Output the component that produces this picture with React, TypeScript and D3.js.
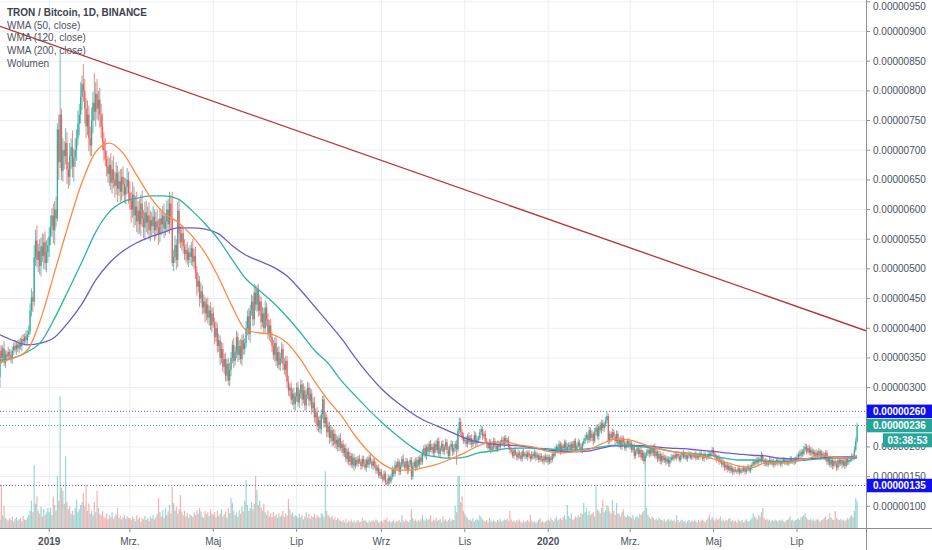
import React, { useEffect, useRef } from 'react';
import * as d3 from 'd3';

// TRX/BTC daily candles, prices in satoshi (1e-8 BTC), first candle 2018-11-26
const startDate = '2018-11-26';
const firstOpen = 318;

const closes = [
  362, 350, 366, 342, 356, // Nov 18
  352, 360, 355, 348, 362, 370, 364, 372, 366, 375, 370, 382, 378, 386, 380, 390, 395, 430, 452, 445, 520, 548, 515, 530, 505, 538, 522, 545, 510, 528, 540, // Dec
  555, 572, 590, 565, 600, 585, 735, 680, 760, 665, 700, 690, 712, 668, 655, 690, 705, 672, 688, 700, 720, 745, 760, 790, 812, 800, 770, 740, 760, 720, 708, // Jan 19
  750, 780, 765, 795, 770, 785, 760, 740, 715, 700, 685, 672, 660, 675, 645, 668, 650, 640, 662, 635, 648, 630, 655, 642, 625, 638, 650, 628, // Feb
  615, 600, 625, 590, 605, 580, 598, 575, 610, 585, 570, 595, 578, 590, 565, 582, 572, 588, 565, 580, 570, 560, 585, 575, 590, 568, 580, 600, 575, 610, 585, // Mar
  510, 520, 540, 515, 598, 560, 545, 560, 538, 525, 532, 515, 528, 520, 535, 512, 522, 495, 470, 480, 450, 462, 435, 445, 425, 440, 418, 430, 405, 425, // Apr
  410, 385, 400, 370, 380, 350, 365, 335, 348, 320, 340, 312, 330, 350, 372, 345, 360, 385, 355, 370, 348, 380, 365, 375, 400, 420, 390, 430, 445, 415, 460, // May
  440, 465, 430, 445, 410, 425, 400, 435, 415, 390, 405, 385, 370, 355, 375, 345, 360, 338, 350, 365, 340, 330, 345, 310, 295, 300, 280, 290, 272, 285, // Jun
  300, 275, 290, 305, 280, 295, 270, 288, 300, 278, 290, 265, 275, 250, 258, 235, 245, 230, 255, 280, 240, 250, 225, 235, 215, 228, 210, 222, 205, 212, 200, // Jul
  215, 198, 205, 190, 198, 180, 192, 175, 185, 170, 182, 168, 178, 172, 180, 175, 168, 180, 172, 165, 178, 170, 182, 175, 168, 176, 170, 160, 165, 152, 158, // Aug
  150, 145, 155, 140, 138, 148, 142, 150, 162, 155, 170, 165, 175, 158, 168, 180, 172, 165, 176, 160, 170, 178, 150, 168, 175, 165, 178, 170, 182, 175, // Sep
  190, 198, 185, 200, 192, 205, 195, 200, 190, 205, 195, 210, 188, 198, 205, 192, 200, 208, 195, 185, 200, 205, 192, 198, 205, 196, 228, 242, 225, 218, 210, // Oct
  212, 205, 218, 208, 215, 204, 210, 220, 206, 212, 215, 225, 230, 218, 222, 210, 205, 198, 208, 195, 200, 210, 202, 196, 205, 200, 208, 212, 205, 215, // Nov
  208, 212, 200, 195, 192, 185, 195, 188, 182, 190, 186, 180, 192, 185, 188, 183, 190, 185, 180, 188, 184, 190, 182, 186, 178, 185, 180, 176, 184, 178, 183, // Dec
  175, 182, 178, 188, 185, 195, 200, 196, 205, 192, 202, 198, 208, 195, 200, 204, 196, 205, 198, 210, 195, 202, 208, 200, 195, 206, 210, 215, 220, 212, 228, // Jan 20
  215, 222, 210, 225, 232, 218, 235, 228, 240, 232, 238, 245, 252, 210, 222, 215, 225, 218, 210, 222, 205, 212, 200, 215, 208, 198, 205, 210, 202, // Feb
  206, 195, 200, 185, 192, 198, 188, 195, 182, 190, 176, 186, 190, 195, 188, 198, 190, 200, 185, 192, 180, 188, 176, 185, 178, 182, 175, 180, 172, 178, 183, // Mar
  180, 186, 182, 188, 184, 178, 186, 190, 183, 187, 180, 185, 189, 182, 186, 184, 188, 181, 186, 183, 189, 185, 180, 187, 184, 182, 188, 185, 190, 195, // Apr
  188, 185, 180, 182, 175, 178, 170, 174, 165, 170, 162, 168, 160, 165, 158, 162, 160, 158, 164, 157, 162, 160, 165, 158, 163, 167, 160, 165, 170, 175, 172, // May
  178, 174, 180, 176, 185, 178, 172, 176, 170, 175, 178, 172, 176, 170, 174, 178, 173, 176, 171, 175, 179, 174, 177, 172, 176, 180, 175, 178, 174, 180, // Jun
  182, 188, 185, 192, 188, 196, 200, 192, 198, 190, 195, 188, 192, 185, 190, 186, 193, 184, 189, 186, 182, 190, 175, 180, 170, 178, 168, 176, 172, 165, 178, // Jul
  172, 178, 170, 176, 168, 180, 174, 178, 178, 185, 182, 195, 210, 236, // Aug
];

const wickUp = [
  10, 8, 6, 12, 7,
  6, 8, 5, 9, 7, 6, 10, 5, 8, 7, 9, 6, 8, 5, 10, 7, 9, 12, 15, 10, 20, 18, 25, 12, 20, 15, 22, 14, 18, 20, 12,
  15, 18, 12, 20, 14, 22, 10, 25, 104, 10, 20, 15, 25, 18, 12, 22, 15, 28, 14, 20, 15, 22, 18, 25, 14, 33, 20, 18, 24, 15, 20,
  22, 18, 50, 20, 25, 15, 20, 18, 22, 15, 20, 14, 18, 12, 20, 15, 22, 14, 18, 12, 16, 20, 14, 18, 12, 15, 20, 14,
  20, 15, 22, 14, 18, 25, 16, 20, 15, 22, 14, 18, 20, 15, 22, 16, 14, 18, 12, 16, 20, 14, 18, 12, 16, 20, 14, 15, 18, 20, 14,
  45, 12, 16, 10, 15, 20, 12, 14, 10, 12, 10, 14, 8, 12, 10, 15, 12, 15, 10, 12, 8, 14, 10, 12, 8, 10, 12, 8, 14, 10,
  10, 8, 12, 9, 11, 8, 12, 10, 9, 11, 8, 10, 12, 10, 8, 12, 9, 11, 8, 10, 12, 9, 11, 8, 12, 10, 14, 9, 12, 10, 15,
  12, 7, 10, 12, 8, 11, 9, 12, 8, 10, 9, 11, 8, 10, 9, 12, 8, 10, 9, 11, 8, 10, 9, 8, 10, 7, 9, 8, 10, 7,
  8, 10, 7, 9, 8, 12, 7, 9, 10, 8, 9, 7, 8, 10, 7, 9, 6, 8, 8, 6, 7, 9, 6, 8, 7, 9, 6, 8, 7, 9, 6,
  6, 8, 5, 7, 6, 8, 5, 7, 6, 5, 7, 6, 5, 6, 5, 7, 4, 6, 5, 7, 4, 6, 5, 7, 4, 6, 5, 5, 4, 6, 5,
  5, 4, 6, 4, 5, 6, 4, 5, 6, 4, 7, 5, 6, 4, 6, 5, 7, 4, 6, 5, 6, 4, 5, 6, 4, 7, 5, 6, 4, 6,
  6, 5, 7, 4, 6, 5, 7, 5, 6, 4, 7, 5, 6, 4, 5, 7, 4, 6, 5, 6, 4, 7, 5, 6, 5, 7, 4, 8, 6, 5, 6,
  5, 6, 4, 7, 5, 6, 4, 7, 5, 6, 4, 5, 6, 5, 4, 6, 5, 4, 6, 5, 4, 6, 5, 4, 6, 5, 4, 5, 6, 4,
  5, 4, 6, 5, 4, 5, 3, 5, 4, 6, 4, 5, 3, 5, 4, 6, 4, 5, 3, 5, 4, 6, 4, 5, 3, 5, 4, 5, 3, 5, 4,
  4, 5, 3, 5, 4, 6, 5, 4, 6, 4, 5, 3, 5, 4, 6, 4, 5, 4, 5, 3, 5, 4, 6, 4, 5, 3, 5, 6, 5, 4, 6,
  5, 6, 4, 7, 5, 6, 4, 7, 5, 6, 4, 6, 8, 4, 5, 4, 6, 5, 4, 6, 5, 4, 6, 5, 4, 6, 5, 4, 5,
  5, 4, 6, 5, 4, 6, 5, 4, 6, 5, 4, 5, 6, 5, 4, 6, 5, 4, 6, 5, 4, 6, 5, 4, 6, 5, 4, 5, 4, 6, 5,
  4, 3, 5, 4, 3, 5, 4, 3, 5, 4, 3, 5, 4, 3, 5, 4, 3, 5, 4, 3, 5, 4, 3, 5, 4, 3, 5, 4, 3, 5,
  4, 5, 3, 4, 5, 3, 4, 5, 3, 4, 5, 3, 4, 5, 3, 4, 4, 3, 5, 4, 3, 5, 4, 3, 5, 4, 3, 5, 4, 5, 3,
  4, 5, 3, 4, 7, 4, 3, 5, 4, 3, 5, 4, 3, 5, 4, 3, 5, 4, 3, 5, 4, 3, 5, 4, 3, 5, 4, 3, 5, 4,
  5, 4, 6, 5, 4, 6, 6, 5, 4, 6, 5, 4, 5, 3, 6, 4, 5, 3, 6, 4, 5, 5, 4, 5, 3, 4, 5, 3, 4, 5, 3,
  4, 5, 3, 4, 5, 3, 4, 5, 4, 5, 3, 6, 6, 5,
];

const wickDown = [
  18, 10, 8, 6, 9,
  8, 5, 9, 6, 8, 7, 5, 9, 6, 8, 6, 9, 5, 7, 6, 8, 5, 6, 10, 18, 8, 15, 12, 20, 14, 18, 10, 22, 12, 16, 18,
  20, 15, 18, 22, 25, 14, 5, 30, 10, 15, 18, 22, 14, 25, 20, 15, 22, 18, 25, 16, 18, 12, 20, 15, 22, 18, 25, 20, 15, 22, 18,
  18, 22, 15, 25, 18, 20, 22, 20, 15, 18, 12, 16, 15, 20, 12, 18, 14, 20, 15, 22, 12, 18, 15, 20, 14, 16, 12, 18,
  15, 22, 14, 20, 16, 18, 22, 15, 20, 14, 18, 22, 16, 20, 15, 18, 16, 12, 18, 14, 12, 20, 15, 18, 14, 16, 12, 18, 14, 16, 20,
  6, 14, 10, 16, 12, 18, 10, 14, 12, 10, 14, 8, 12, 10, 14, 8, 12, 12, 15, 10, 14, 8, 12, 10, 15, 12, 10, 14, 8, 12,
  9, 12, 8, 11, 10, 12, 9, 8, 12, 10, 9, 8, 10, 11, 9, 12, 8, 10, 12, 9, 8, 11, 10, 9, 8, 12, 10, 14, 9, 12, 10,
  10, 12, 11, 9, 12, 8, 10, 9, 12, 8, 11, 9, 10, 8, 11, 9, 12, 8, 10, 9, 11, 8, 12, 10, 9, 11, 8, 10, 9, 11,
  9, 7, 10, 8, 11, 7, 9, 8, 7, 10, 8, 10, 7, 9, 11, 8, 10, 7, 9, 8, 8, 7, 9, 8, 10, 7, 9, 8, 7, 9, 8,
  7, 5, 8, 6, 7, 5, 8, 6, 7, 5, 6, 8, 5, 5, 6, 4, 7, 5, 6, 4, 7, 5, 6, 4, 5, 7, 6, 6, 5, 4, 6,
  4, 5, 3, 4, 3, 4, 5, 4, 5, 6, 4, 5, 4, 6, 5, 4, 6, 5, 4, 6, 5, 4, 6, 5, 4, 6, 5, 4, 6, 5,
  5, 6, 4, 7, 5, 6, 4, 6, 5, 7, 4, 6, 5, 7, 5, 4, 6, 5, 7, 4, 6, 5, 7, 5, 6, 26, 5, 6, 5, 6, 5,
  4, 5, 6, 4, 5, 6, 4, 5, 6, 4, 5, 4, 5, 6, 4, 5, 6, 4, 5, 6, 4, 5, 6, 4, 5, 6, 4, 5, 4, 6,
  4, 5, 4, 6, 5, 4, 5, 3, 5, 4, 6, 4, 5, 3, 5, 4, 6, 4, 5, 3, 5, 4, 6, 4, 5, 3, 5, 4, 6, 4, 5,
  5, 4, 6, 4, 5, 3, 4, 5, 3, 5, 4, 6, 4, 5, 3, 5, 4, 5, 4, 6, 4, 5, 3, 5, 4, 6, 4, 5, 4, 6, 5,
  6, 5, 7, 4, 6, 5, 7, 4, 6, 5, 7, 5, 5, 6, 5, 7, 4, 5, 6, 4, 5, 6, 4, 5, 6, 4, 5, 6, 4,
  6, 5, 4, 6, 5, 4, 6, 5, 4, 6, 5, 16, 4, 5, 6, 4, 5, 6, 4, 5, 6, 4, 5, 6, 4, 5, 6, 4, 5, 6, 4,
  3, 4, 3, 5, 4, 3, 4, 5, 3, 4, 3, 5, 4, 3, 4, 5, 3, 4, 3, 5, 4, 3, 4, 5, 3, 4, 3, 5, 4, 3,
  5, 4, 6, 4, 5, 3, 5, 4, 6, 4, 5, 3, 5, 4, 6, 4, 3, 4, 3, 5, 3, 4, 3, 5, 3, 4, 3, 4, 4, 3, 5,
  3, 4, 5, 3, 4, 3, 4, 5, 3, 4, 5, 3, 4, 5, 3, 4, 5, 3, 4, 5, 3, 4, 5, 3, 4, 5, 3, 4, 5, 3,
  4, 5, 3, 4, 5, 3, 4, 5, 3, 4, 5, 5, 4, 6, 3, 5, 4, 6, 3, 5, 4, 6, 5, 6, 4, 5, 6, 4, 5, 6, 4,
  5, 4, 6, 4, 5, 3, 5, 4, 4, 3, 5, 4, 3, 4,
];

// daily volume, tens of millions TRX
const volumes = [
  30, 150, 45, 77, 35,
  30, 25, 35, 28, 40, 22, 32, 38, 26, 30, 35, 24, 42, 30, 28, 36, 45, 60, 95, 55, 220, 85, 110, 60, 50, 75, 40, 65, 45, 55, 70,
  55, 70, 45, 110, 80, 60, 180, 95, 460, 140, 130, 85, 250, 90, 65, 77, 50, 60, 45, 70, 100, 55, 65, 80, 90, 122, 75, 150, 60, 85, 50,
  60, 45, 90, 55, 130, 70, 50, 45, 60, 40, 35, 50, 30, 45, 38, 55, 32, 40, 48, 70, 35, 42, 30, 38, 45, 32, 40, 35,
  35, 28, 40, 32, 25, 45, 30, 38, 22, 35, 30, 42, 28, 36, 25, 40, 33, 45, 30, 38, 48, 104, 55, 40, 62, 35, 70, 45, 58, 80, 50,
  143, 87, 60, 75, 50, 65, 115, 55, 45, 60, 40, 52, 35, 48, 42, 38, 55, 45, 62, 50, 70, 58, 40, 35, 60, 48, 55, 42, 65, 50,
  45, 55, 38, 60, 42, 50, 65, 40, 48, 58, 35, 70, 52, 104, 87, 60, 45, 55, 40, 62, 50, 75, 58, 95, 167, 80, 60, 70, 90, 65, 85,
  181, 132, 80, 95, 70, 60, 85, 55, 45, 62, 40, 50, 38, 55, 42, 48, 35, 52, 40, 45, 60, 38, 50, 42, 101, 65, 48, 55, 40, 45,
  42, 35, 50, 38, 45, 30, 40, 55, 35, 48, 32, 42, 38, 50, 36, 45, 40, 35, 52, 48, 38, 198, 60, 45, 40, 35, 42, 30, 38, 28, 35,
  30, 25, 22, 28, 20, 32, 18, 25, 22, 30, 20, 26, 18, 24, 28, 20, 22, 35, 25, 30, 22, 18, 26, 20, 24, 28, 22, 30, 25, 18, 22,
  25, 20, 30, 28, 35, 22, 26, 20, 24, 30, 18, 25, 22, 28, 20, 45, 26, 22, 30, 24, 20, 28, 66, 35, 25, 30, 22, 28, 24, 32,
  45, 30, 25, 35, 28, 32, 45, 22, 30, 26, 35, 24, 28, 32, 20, 40, 26, 30, 22, 28, 35, 25, 30, 28, 77, 55, 181, 181, 90, 111, 60,
  50, 40, 35, 28, 30, 25, 35, 22, 28, 32, 26, 45, 38, 30, 25, 22, 28, 20, 35, 26, 22, 30, 24, 20, 28, 25, 32, 22, 26, 30,
  28, 32, 25, 59, 30, 22, 26, 20, 28, 24, 30, 22, 18, 26, 20, 24, 28, 22, 45, 26, 20, 24, 18, 22, 28, 35, 20, 24, 18, 22, 26,
  30, 25, 35, 28, 22, 32, 40, 26, 30, 35, 28, 38, 45, 30, 80, 42, 35, 50, 28, 32, 40, 36, 45, 38, 52, 48, 87, 55, 70, 45, 60,
  45, 50, 55, 40, 150, 65, 60, 52, 70, 97, 55, 62, 80, 75, 58, 50, 97, 60, 45, 87, 52, 48, 40, 55, 65, 42, 38, 45, 40,
  40, 35, 45, 30, 38, 42, 35, 50, 45, 55, 60, 200, 70, 45, 38, 32, 40, 35, 28, 32, 26, 35, 30, 28, 25, 30, 22, 28, 32, 25, 30,
  25, 30, 22, 45, 28, 20, 26, 30, 22, 25, 18, 24, 28, 20, 26, 22, 30, 24, 20, 28, 22, 26, 30, 24, 20, 28, 35, 45, 30, 38,
  30, 26, 35, 28, 32, 40, 25, 30, 22, 28, 26, 32, 35, 24, 28, 22, 26, 20, 30, 24, 22, 28, 20, 26, 30, 24, 22, 28, 35, 52, 40,
  35, 30, 45, 40, 55, 70, 35, 28, 32, 26, 30, 22, 28, 24, 30, 26, 22, 28, 25, 30, 24, 20, 26, 28, 32, 40, 26, 30, 24, 28,
  30, 35, 28, 38, 40, 45, 52, 35, 30, 28, 32, 26, 30, 24, 28, 32, 26, 22, 28, 30, 35, 40, 28, 32, 52, 36, 30, 28, 59, 35, 30,
  28, 32, 26, 30, 24, 28, 35, 30, 40, 45, 38, 60, 104, 94,
];

// moving averages read every 10 candles (last point = last candle)
const wmaIndex = [...d3.range(0, 621, 10), 627];
const wma50 = [343, 350, 363, 417, 495, 574, 646, 697, 712, 695, 658, 621, 594, 579, 557, 527, 485, 436, 397, 392, 389, 375, 347, 311, 279, 252, 218, 191, 171, 161, 161, 165, 171, 180, 190, 202, 208, 208, 203, 200, 193, 190, 192, 195, 205, 213, 212, 205, 198, 193, 190, 186, 181, 175, 168, 165, 173, 173, 175, 180, 185, 183, 181, 186];
const wma120 = [346, 350, 360, 377, 417, 464, 512, 562, 596, 613, 619, 623, 623, 618, 599, 576, 549, 515, 483, 463, 443, 419, 392, 363, 341, 311, 286, 262, 240, 220, 202, 188, 183, 181, 183, 190, 193, 197, 198, 198, 197, 195, 195, 197, 200, 203, 202, 200, 198, 193, 190, 188, 186, 181, 178, 178, 176, 175, 176, 178, 180, 181, 181, 181];
const wma200 = [389, 379, 372, 375, 385, 410, 441, 481, 510, 530, 544, 554, 562, 569, 569, 567, 559, 539, 523, 513, 503, 488, 464, 437, 410, 382, 350, 321, 296, 276, 259, 245, 235, 225, 215, 208, 205, 203, 202, 198, 195, 193, 192, 193, 198, 202, 202, 202, 200, 198, 197, 195, 193, 190, 188, 186, 185, 181, 180, 180, 181, 183, 183, 183];

const trendAnchors = [
  { date: '2019-01-09', price: 873 },
  { date: '2020-08-14', price: 401 },
];

// 0.00000250 is covered by the price labels in the reference, so it has no grid label
const priceTicks = [100, 150, 200, 250, 300, 350, 400, 450, 500, 550, 600, 650, 700, 750, 800, 850, 900, 950];
const hiddenTickLabels = [250];

const timeTicks = [
  { date: '2019-01-01', label: '2019', year: true },
  { date: '2019-03-01', label: 'Mrz.' },
  { date: '2019-05-01', label: 'Maj' },
  { date: '2019-07-01', label: 'Lip' },
  { date: '2019-09-01', label: 'Wrz' },
  { date: '2019-11-01', label: 'Lis' },
  { date: '2020-01-01', label: '2020', year: true },
  { date: '2020-03-01', label: 'Mrz.' },
  { date: '2020-05-01', label: 'Maj' },
  { date: '2020-07-01', label: 'Lip' },
];

const levels = [
  { price: 260, line: '#5c5cd6', box: '#0f0ff0' },
  { price: 236, line: '#26a69a', box: '#26a69a' },
  { price: 135, line: '#5c5cd6', box: '#0f0ff0' },
];

const legendItems = ['TRON / Bitcoin, 1D, BINANCE', 'WMA (50, close)', 'WMA (120, close)', 'WMA (200, close)', 'Wolumen'];
const countdown = '03:38:53';

const DAY = 864e5;
const parseDay = (s: string) => new Date(s + 'T00:00:00Z');
const fmt = (p: number) => (p / 1e8).toFixed(8);
const FONT = "'Liberation Sans', Arial, sans-serif";

export default function App() {
  const ref = useRef<HTMLDivElement>(null);

  useEffect(() => {
    if (!ref.current) return;
    const root = d3.select(ref.current);
    root.selectAll('*').remove();

    const width = 932;
    const height = 550;
    const plotW = 866;
    const plotH = 528;

    const svg = root.append('svg')
      .attr('width', width)
      .attr('height', height)
      .style('display', 'block')
      .style('background', '#ffffff');

    const t0 = parseDay(startDate).getTime();
    const x = d3.scaleUtc()
      .domain([new Date(t0), new Date(t0 + 633.5 * DAY)])
      .range([0, plotW]);
    const y = d3.scaleLinear().domain([63.4, 953.1]).range([plotH, 0]);
    const vy = d3.scaleLinear().domain([0, d3.max(volumes) as number]).range([plotH, plotH - 132]);

    const candles = closes.map((c, i) => {
      const o = i === 0 ? firstOpen : closes[i - 1];
      return {
        date: new Date(t0 + i * DAY),
        o, c,
        h: Math.max(o, c) + wickUp[i],
        l: Math.min(o, c) - wickDown[i],
        v: volumes[i],
        up: c >= o,
      };
    });

    svg.append('defs').append('clipPath').attr('id', 'plot-clip')
      .append('rect').attr('width', plotW).attr('height', plotH);

    // grid
    const grid = svg.append('g');
    grid.selectAll('.hg').data(priceTicks).join('line')
      .attr('x1', 0).attr('x2', plotW)
      .attr('y1', d => y(d)).attr('y2', d => y(d))
      .attr('stroke', '#e9eef6').attr('stroke-width', 1);
    grid.selectAll('.vg').data(timeTicks).join('line')
      .attr('x1', d => x(parseDay(d.date))).attr('x2', d => x(parseDay(d.date)))
      .attr('y1', 0).attr('y2', plotH)
      .attr('stroke', '#e9eef6').attr('stroke-width', 1);

    const plot = svg.append('g').attr('clip-path', 'url(#plot-clip)');

    // volume
    plot.append('g').selectAll('rect').data(candles).join('rect')
      .attr('x', d => x(d.date) - 0.6)
      .attr('width', 1.2)
      .attr('y', d => vy(d.v))
      .attr('height', d => plotH - vy(d.v))
      .attr('fill', d => d.up ? 'rgba(38,166,154,0.45)' : 'rgba(239,83,80,0.45)');

    // horizontal levels
    plot.append('g').selectAll('line').data(levels).join('line')
      .attr('x1', 0).attr('x2', plotW)
      .attr('y1', d => y(d.price)).attr('y2', d => y(d.price))
      .attr('stroke', d => d.line)
      .attr('stroke-width', 1)
      .attr('stroke-dasharray', '1 2');

    // candles
    const cg = plot.append('g');
    cg.selectAll('.wick').data(candles).join('rect')
      .attr('x', d => x(d.date) - 0.5)
      .attr('width', 1)
      .attr('y', d => y(d.h))
      .attr('height', d => y(d.l) - y(d.h))
      .attr('fill', d => d.up ? '#26a69a' : '#ef5350')
      .attr('opacity', 0.7);
    cg.selectAll('.body').data(candles).join('rect')
      .attr('x', d => x(d.date) - 0.65)
      .attr('width', 1.3)
      .attr('y', d => y(Math.max(d.o, d.c)))
      .attr('height', d => Math.max(1, Math.abs(y(d.o) - y(d.c))))
      .attr('fill', d => d.up ? '#26a69a' : '#ef5350')
      .attr('opacity', 0.85);

    // moving averages
    const maLine = d3.line<{ date: Date; v: number }>()
      .x(d => x(d.date))
      .y(d => y(d.v))
      .curve(d3.curveMonotoneX);
    const series = [
      { values: wma200, color: '#6e5cc6' },
      { values: wma120, color: '#2fb2a5' },
      { values: wma50, color: '#ff8a45' },
    ];
    series.forEach(s => {
      const pts = s.values.map((v, k) => ({ date: new Date(t0 + wmaIndex[k] * DAY), v }));
      plot.append('path')
        .datum(pts)
        .attr('fill', 'none')
        .attr('stroke', s.color)
        .attr('stroke-width', 1.3)
        .attr('d', maLine);
    });

    // trend line, extended over the whole pane
    const [a, b] = trendAnchors.map(p => [x(parseDay(p.date)), y(p.price)]);
    const slope = (b[1] - a[1]) / (b[0] - a[0]);
    plot.append('line')
      .attr('x1', 0).attr('y1', a[1] - slope * a[0])
      .attr('x2', plotW).attr('y2', a[1] + slope * (plotW - a[0]))
      .attr('stroke', '#b8322e')
      .attr('stroke-width', 1.3);

    // axes lines
    svg.append('line').attr('x1', 0).attr('x2', width).attr('y1', plotH + 0.5).attr('y2', plotH + 0.5)
      .attr('stroke', '#8a8e97');
    svg.append('line').attr('x1', plotW + 0.5).attr('x2', plotW + 0.5).attr('y1', 0).attr('y2', height)
      .attr('stroke', '#8a8e97');

    // right price axis
    const ra = svg.append('g');
    ra.selectAll('line').data(priceTicks).join('line')
      .attr('x1', plotW).attr('x2', plotW + 4)
      .attr('y1', d => y(d)).attr('y2', d => y(d))
      .attr('stroke', '#8a8e97');
    ra.selectAll('text').data(priceTicks.filter(p => !hiddenTickLabels.includes(p))).join('text')
      .attr('x', plotW + 7)
      .attr('y', d => Math.max(y(d), 6))
      .attr('dy', '0.35em')
      .attr('font-family', FONT)
      .attr('font-size', 10)
      .attr('fill', '#4c525e')
      .text(d => fmt(d));

    // time axis
    const ta = svg.append('g');
    ta.selectAll('line').data(timeTicks).join('line')
      .attr('x1', d => x(parseDay(d.date))).attr('x2', d => x(parseDay(d.date)))
      .attr('y1', plotH).attr('y2', plotH + 4)
      .attr('stroke', '#8a8e97');
    ta.selectAll('text').data(timeTicks).join('text')
      .attr('x', d => x(parseDay(d.date)))
      .attr('y', plotH + 17)
      .attr('text-anchor', 'middle')
      .attr('font-family', FONT)
      .attr('font-size', 10)
      .attr('font-weight', d => d.year ? 'bold' : 'normal')
      .attr('fill', '#4c525e')
      .text(d => d.label);

    // price labels on the axis
    const boxH = 13.5;
    levels.forEach(l => {
      const cy = y(l.price);
      svg.append('rect')
        .attr('x', plotW + 1).attr('y', cy - boxH / 2)
        .attr('width', width - plotW - 1).attr('height', boxH)
        .attr('fill', l.box);
      svg.append('text')
        .attr('x', plotW + 7).attr('y', cy).attr('dy', '0.35em')
        .attr('font-family', FONT).attr('font-size', 10).attr('font-weight', 'bold')
        .attr('fill', '#ffffff')
        .text(fmt(l.price));
    });
    const last = candles[candles.length - 1];
    const ty = y(last.c) + boxH / 2 + 1;
    svg.append('rect')
      .attr('x', 883).attr('y', ty)
      .attr('width', width - 883).attr('height', 14)
      .attr('fill', '#26a69a');
    svg.append('text')
      .attr('x', (883 + width) / 2).attr('y', ty + 7).attr('dy', '0.35em')
      .attr('text-anchor', 'middle')
      .attr('font-family', FONT).attr('font-size', 10).attr('font-weight', 'bold')
      .attr('fill', '#ffffff')
      .text(countdown);

    // legend
    svg.append('g').selectAll('text').data(legendItems).join('text')
      .attr('x', 7)
      .attr('y', (d, i) => 16 + i * 12.7)
      .attr('font-family', FONT)
      .attr('font-size', 10)
      .attr('font-weight', (d, i) => i === 0 ? 'bold' : 'normal')
      .attr('fill', (d, i) => i === 0 ? '#3d4150' : '#50535e')
      .text(d => d);
  }, []);

  return (
    <div style={{ position: 'absolute', left: 0, top: 0, width: 932, height: 550, background: '#fff' }}>
      <div ref={ref} />
    </div>
  );
}
